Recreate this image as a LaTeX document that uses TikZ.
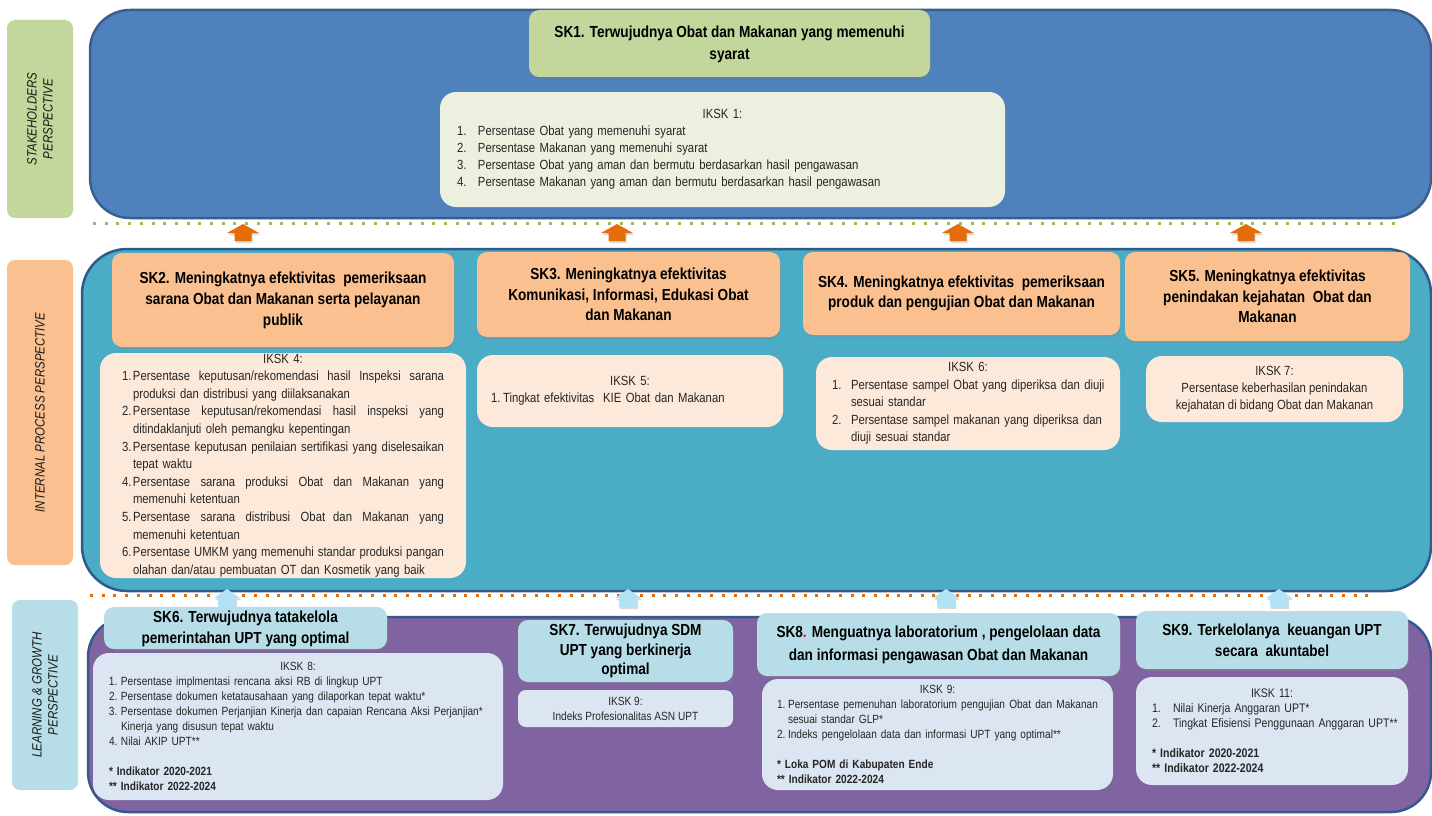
\documentclass[tikz,border=0pt]{standalone}
\usepackage{fontspec}
\setmainfont{Liberation Sans}[FakeStretch=0.85]
\usetikzlibrary{shadows}
\definecolor{pblue}{HTML}{4F81BD}
\definecolor{pblueb}{HTML}{3A5F8E}
\definecolor{pteal}{HTML}{4BACC6}
\definecolor{ptealb}{HTML}{2E5B8C}
\definecolor{ppurp}{HTML}{8064A2}
\definecolor{ppurpb}{HTML}{34598A}
\definecolor{lgreen}{HTML}{C3D69B}
\definecolor{llgreen}{HTML}{EBF1DE}
\definecolor{peach}{HTML}{FAC090}
\definecolor{lpeach}{HTML}{FDE9D9}
\definecolor{lblue}{HTML}{B7DEE8}
\definecolor{llblue}{HTML}{DCE6F2}
\definecolor{dgreen}{HTML}{9BBB59}
\definecolor{orng}{HTML}{E46C0A}
\definecolor{arrblue}{HTML}{B2E3F5}
\definecolor{txt}{HTML}{262626}
\newcommand\fs[2]{\fontsize{#1}{#2}\selectfont}
\newcommand\itm[3]{\makebox[#1][l]{#2}\mbox{#3}}
\newcommand\cnt[2]{\hspace*{#1}\mbox{#2}}
\newcommand\jl[2]{\makebox[#1][s]{\spaceskip=0.25em plus 1fil\xspaceskip=0.25em plus 1fil #2}}
\newcommand\blockarr[7]{%
  \fill[#7, drop shadow={opacity=0.3, shadow xshift=1pt, shadow yshift=-2pt}]
    (#1,#2) -- (#1+#5,#3) -- (#1+#6,#3) -- (#1+#6,#4) -- (#1-#6,#4) -- (#1-#6,#3) -- (#1-#5,#3) -- cycle;}
\begin{document}
\begin{tikzpicture}[x=1pt,y=-1pt,
  lab/.style={rounded corners=8pt, rotate=90, align=center, inner sep=0pt, font=\fs{13.5}{16}\itshape, text=black!90},
  sk/.style={rounded corners=10pt, align=center, inner sep=0pt, font=\fs{16}{21}\bfseries, text=black,
             drop shadow={opacity=0.25, shadow xshift=1pt, shadow yshift=-2pt}},
  ik/.style={rounded corners=16pt, inner sep=0pt, text=txt},
  panel/.style={line width=2.5pt, rounded corners=40pt}
  ]
\useasboundingbox (0,0) rectangle (1432,816);
% panels
\draw[panel, draw=pblueb, fill=pblue] (90,10) rectangle (1431,218);
\draw[panel, draw=ptealb, fill=pteal, rounded corners=45pt] (82,249) rectangle (1431,591);
\draw[panel, draw=ppurpb, fill=ppurp] (88,617) rectangle (1431,812);
% dotted separators
\draw[dgreen, line width=3pt, dash pattern=on 3pt off 8.7pt] (93,223) -- (1400,223);
\draw[orng, line width=3pt, dash pattern=on 3pt off 8.7pt] (90,595) -- (1368,595);
% block arrows
\blockarr{243}{224}{233}{241}{16}{8.5}{orng}
\blockarr{617}{224}{233}{241}{16}{8.5}{orng}
\blockarr{958}{224}{233}{241}{16}{8.5}{orng}
\blockarr{1246}{224}{233}{241}{16}{8.5}{orng}
\blockarr{227}{589}{598}{607}{13}{9}{arrblue}
\blockarr{628}{589}{598}{607}{13}{9}{arrblue}
\blockarr{946}{589}{598}{607}{13}{9}{arrblue}
\blockarr{1279}{589}{598}{607}{13}{9}{arrblue}
% perspective labels
\node[lab, fill=lgreen, minimum width=198pt, minimum height=66pt] (lstake) at (40,119) {STAKEHOLDERS\\PERSPECTIVE};
\node[lab, fill=peach, minimum width=305pt, minimum height=66pt] (linternal) at (40,412.5) {INTERNAL PROCESS PERSPECTIVE};
\node[lab, fill=lblue, minimum width=190pt, minimum height=66pt] (llearn) at (45,695) {LEARNING \& GROWTH\\PERSPECTIVE};
% stakeholders
\node[sk, fill=lgreen, minimum width=401pt, minimum height=67pt, font=\fs{16}{22}\bfseries] (sk1) at (729.5,43.5) {\rule{0pt}{14pt}SK1. Terwujudnya Obat dan Makanan yang memenuhi\\syarat};
\node[ik, fill=llgreen, minimum width=565pt, minimum height=115pt, text width=531pt, align=left, font=\fs{13.3}{17}] (ik1) at (722.5,149.5) {%
\makebox[531pt]{IKSK 1:}\\
\itm{21pt}{1.}{Persentase Obat yang memenuhi syarat}\\
\itm{21pt}{2.}{Persentase Makanan yang memenuhi syarat}\\
\itm{21pt}{3.}{Persentase Obat yang aman dan bermutu berdasarkan hasil pengawasan}\\
\itm{21pt}{4.}{Persentase Makanan yang aman dan bermutu berdasarkan hasil pengawasan}};
% internal process
\node[sk, fill=peach, minimum width=342pt, minimum height=94pt] (sk2) at (283,300) {SK2. Meningkatnya efektivitas\ \ pemeriksaan\\sarana Obat dan Makanan serta pelayanan\\publik};
\node[sk, fill=peach, minimum width=303pt, minimum height=85pt, font=\fs{16}{20.5}\bfseries] (sk3) at (628.5,294.5) {SK3. Meningkatnya efektivitas\\Komunikasi, Informasi, Edukasi Obat\\dan Makanan};
\node[sk, fill=peach, minimum width=317pt, minimum height=83pt, font=\fs{16}{20}\bfseries] (sk4) at (961.5,293.5) {SK4. Meningkatnya efektivitas\ \ pemeriksaan\\produk dan pengujian Obat dan Makanan};
\node[sk, fill=peach, minimum width=285pt, minimum height=89pt, font=\fs{16}{20.5}\bfseries] (sk5) at (1267.5,296.5) {SK5. Meningkatnya efektivitas\\penindakan kejahatan\ \ Obat dan\\Makanan};
\node[ik, fill=lpeach, minimum width=366pt, minimum height=225pt, text width=322pt, align=left, font=\fs{13.3}{17.6}] (ik4) at (283,465.5) {%
\makebox[322pt]{IKSK 4:}\\
\makebox[11pt][l]{1.}\jl{311pt}{Persentase keputusan/rekomendasi hasil Inspeksi sarana}\\
\cnt{11pt}{produksi dan distribusi yang diilaksanakan}\\
\makebox[11pt][l]{2.}\jl{311pt}{Persentase keputusan/rekomendasi hasil inspeksi yang}\\
\cnt{11pt}{ditindaklanjuti oleh pemangku kepentingan}\\
\makebox[11pt][l]{3.}\jl{311pt}{Persentase keputusan penilaian sertifikasi yang diselesaikan}\\
\cnt{11pt}{tepat waktu}\\
\makebox[11pt][l]{4.}\jl{311pt}{Persentase sarana produksi Obat dan Makanan yang}\\
\cnt{11pt}{memenuhi ketentuan}\\
\makebox[11pt][l]{5.}\jl{311pt}{Persentase sarana distribusi Obat\hspace{8pt}dan Makanan yang}\\
\cnt{11pt}{memenuhi ketentuan}\\
\makebox[11pt][l]{6.}\jl{311pt}{Persentase UMKM yang memenuhi standar produksi pangan}\\
\cnt{11pt}{olahan dan/atau pembuatan OT dan Kosmetik yang baik}};
\node[ik, fill=lpeach, minimum width=306pt, minimum height=72pt, text width=278pt, align=left, font=\fs{13.3}{17}] (ik5) at (630,391) {%
\makebox[278pt]{IKSK 5:}\\
\itm{12pt}{1.}{Tingkat efektivitas\ \ KIE Obat dan Makanan}};
\node[ik, fill=lpeach, minimum width=304pt, minimum height=93pt, text width=272pt, align=left, font=\fs{13.3}{17.5}] (ik6) at (968,403.5) {%
\makebox[272pt]{IKSK 6:}\\
\itm{19pt}{1.}{Persentase sampel Obat yang diperiksa dan diuji}\\
\cnt{19pt}{sesuai standar}\\
\itm{19pt}{2.}{Persentase sampel makanan yang diperiksa dan}\\
\cnt{19pt}{diuji sesuai standar}};
\node[ik, fill=lpeach, minimum width=257pt, minimum height=66pt, align=center, font=\fs{13.3}{17}] (ik7) at (1274.5,389) {IKSK 7:\\Persentase keberhasilan penindakan\\kejahatan di bidang Obat dan Makanan};
% learning & growth
\node[sk, fill=lblue, minimum width=283pt, minimum height=42pt] (sk6) at (245.5,628) {\rule{0pt}{14pt}SK6. Terwujudnya tatakelola\\pemerintahan UPT yang optimal};
\node[ik, fill=llblue, minimum width=410pt, minimum height=147pt, text width=378pt, align=left, font=\fs{11.9}{15}] (ik8) at (298,726.5) {%
\makebox[378pt]{IKSK 8:}\\
\itm{12pt}{1.}{Persentase implmentasi rencana aksi RB di lingkup UPT}\\
\itm{12pt}{2.}{Persentase dokumen ketatausahaan yang dilaporkan tepat waktu*}\\
\itm{12pt}{3.}{Persentase dokumen Perjanjian Kinerja dan capaian Rencana Aksi Perjanjian*}\\
\cnt{12pt}{Kinerja yang disusun tepat waktu}\\
\itm{12pt}{4.}{Nilai AKIP UPT**}\\
\mbox{}\\
\textbf{* Indikator 2020-2021}\\
\textbf{** Indikator 2022-2024}};
\node[sk, fill=lblue, minimum width=215pt, minimum height=62pt, font=\fs{16}{19.5}\bfseries] (sk7) at (625.5,651) {SK7. Terwujudnya SDM\\UPT yang berkinerja\\optimal};
\node[ik, rounded corners=8pt, fill=llblue, minimum width=215pt, minimum height=37pt, align=center, font=\fs{11.9}{15}] (ik9a) at (625.5,708.5) {IKSK 9:\\Indeks Profesionalitas ASN UPT};
\node[sk, fill=lblue, minimum width=363pt, minimum height=63pt, font=\fs{16}{23}\bfseries] (sk8) at (938.5,644.5) {SK8{\color{red}.} Menguatnya laboratorium , pengelolaan data\\dan informasi pengawasan Obat dan Makanan};
\node[ik, fill=llblue, minimum width=351pt, minimum height=111pt, text width=321pt, align=left, font=\fs{11.9}{15}] (ik9b) at (937.5,734.5) {%
\makebox[321pt]{IKSK 9:}\\
\makebox[11pt][l]{1.}\jl{310pt}{Persentase pemenuhan laboratorium pengujian Obat dan Makanan}\\
\cnt{11pt}{sesuai standar GLP*}\\
\itm{11pt}{2.}{Indeks pengelolaan data dan informasi UPT yang optimal**}\\
\mbox{}\\
\textbf{* Loka POM di Kabupaten Ende}\\
\textbf{** Indikator 2022-2024}};
\node[sk, fill=lblue, minimum width=272pt, minimum height=58pt] (sk9) at (1272,640) {SK9. Terkelolanya\ \ keuangan UPT\\secara\ \ akuntabel};
\node[ik, fill=llblue, minimum width=272pt, minimum height=108pt, text width=240pt, align=left, font=\fs{12.4}{15}] (ik11) at (1272,731) {%
\makebox[240pt]{IKSK 11:}\\
\itm{21pt}{1.}{Nilai Kinerja Anggaran UPT*}\\
\itm{21pt}{2.}{Tingkat Efisiensi Penggunaan Anggaran UPT**}\\
\mbox{}\\
\textbf{* Indikator 2020-2021}\\
\textbf{** Indikator 2022-2024}};
\end{tikzpicture}
\end{document}
